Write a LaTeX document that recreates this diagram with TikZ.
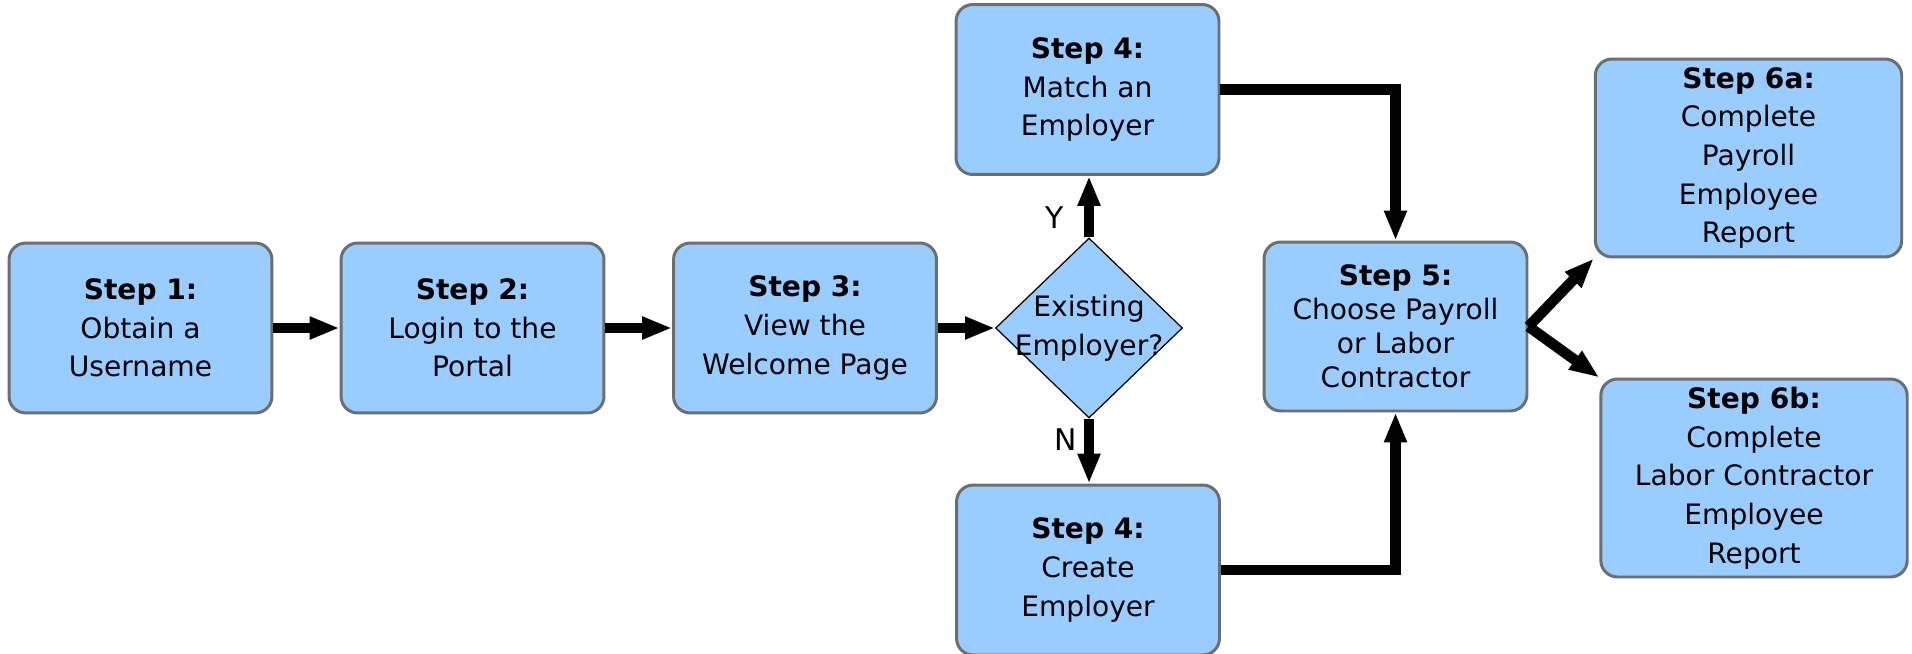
\documentclass[tikz,border=0pt]{standalone}
\usepackage{fontspec}
\setmainfont{DejaVu Sans}
\usetikzlibrary{shapes.geometric,arrows.meta}

\definecolor{stepblue}{HTML}{99CCFF}
\definecolor{stepgray}{HTML}{6E6E6E}

\tikzset{
  stepbox/.style={draw=stepgray, line width=1.7pt, fill=stepblue, rounded corners=9.5pt,
    minimum width=5.26cm, minimum height=3.4cm, align=center, inner sep=2pt,
    font=\fontsize{16}{22}\selectfont},
  widebox/.style={stepbox, minimum width=6.13cm, minimum height=3.96cm},
  query/.style={diamond, draw=black, line width=0.7pt, fill=stepblue, inner sep=0pt,
    minimum width=3.74cm, minimum height=3.6cm},
  flow/.style={line width=6pt, -{Triangle[length=17pt,width=12pt]}}
}

\begin{document}
\begin{tikzpicture}[x=0.02cm, y=-0.02cm]
	\useasboundingbox (0,0) rectangle (1912,653);

	% main row
	\node[stepbox] (s1) at (140.5,328) {\textbf{Step 1:}\\Obtain a\\Username};
	\node[stepbox] (s2) at (472.5,328) {\textbf{Step 2:}\\Login to the\\Portal};
	\node[stepbox] (s3) at (805,328) {\textbf{Step 3:}\\View the\\Welcome Page};
	\node[query] (q) at (1089,328) {};
	\node[align=center, font=\fontsize{16}{22}\selectfont] (qt) at (q) {Existing\\Employer?};

	% the two step 4 boxes
	\node[stepbox] (s4a) at (1087.5,89.5) {\textbf{Step 4:}\\Match an\\Employer};
	\node[stepbox] (s4b) at (1088,570) {\textbf{Step 4:}\\Create\\Employer};
	\node[font=\fontsize{17}{20}\selectfont] (ylab) at (1055,218) {Y};
	\node[font=\fontsize{17}{20}\selectfont] (nlab) at (1066,440) {N};

	\node[stepbox, minimum height=3.38cm, font=\fontsize{16}{19.3}\selectfont] (s5) at (1395.5,326.5)
		{\textbf{Step 5:}\\Choose Payroll\\or Labor\\Contractor};
	\node[widebox] (s6a) at (1748.5,158) {\textbf{Step 6a:}\\Complete\\Payroll\\Employee\\Report};
	\node[widebox] (s6b) at (1754,478) {\textbf{Step 6b:}\\Complete\\Labor Contractor\\Employee\\Report};

	% connectors
	\draw[flow] (s1) -- (s2);
	\draw[flow] (s2) -- (s3);
	\draw[flow] (s3) -- (q);
	\draw[flow] (q.north) -- (q.north |- s4a.south);
	\draw[flow] (q.south) -- (q.south |- s4b.north);
	\draw[flow] (s4a.east) -| (s5.north);
	\draw[flow] (s4b.east) -| (s5.south);
	\draw[flow] (s5.east) -- (s6a.south west);
	\draw[flow] (s5.east) -- (s6b.north west);
\end{tikzpicture}
\end{document}
